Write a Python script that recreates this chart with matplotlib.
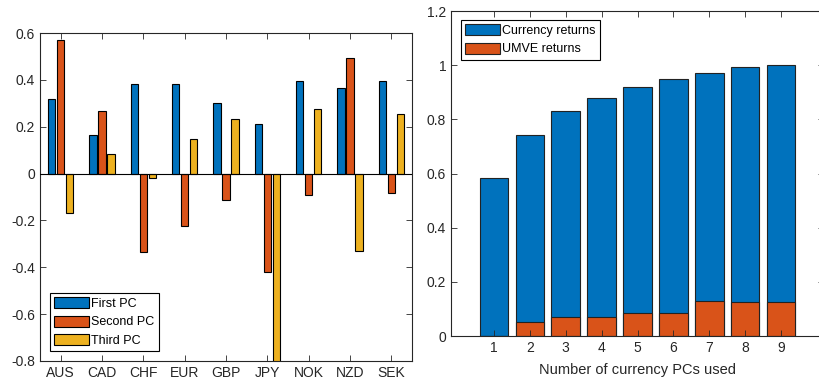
import numpy as np
import matplotlib
matplotlib.use("Agg")
import matplotlib.pyplot as plt

plt.rcParams["font.family"] = ["Liberation Sans", "DejaVu Sans"]
plt.rcParams["font.size"] = 10

# left panel: loadings of the first three currency PCs
currencies = ["AUS", "CAD", "CHF", "EUR", "GBP", "JPY", "NOK", "NZD", "SEK"]
first_pc = [0.319, 0.165, 0.382, 0.384, 0.302, 0.212, 0.396, 0.366, 0.397]
second_pc = [0.570, 0.268, -0.335, -0.224, -0.113, -0.420, -0.090, 0.493, -0.085]
third_pc = [-0.167, 0.083, -0.017, 0.147, 0.235, -0.820, 0.275, -0.332, 0.253]
pc_labels = ["First PC", "Second PC", "Third PC"]

# right panel: share explained vs number of PCs
n_pcs = [1, 2, 3, 4, 5, 6, 7, 8, 9]
currency_returns = [0.582, 0.743, 0.832, 0.877, 0.920, 0.949, 0.972, 0.992, 1.000]
umve_returns = [0.0, 0.052, 0.071, 0.069, 0.085, 0.086, 0.128, 0.127, 0.125]

BLUE = "#0072BD"
RED = "#D95319"
YELLOW = "#EDB120"
TXT = "#262626"


def tick_text(v):
    v = round(float(v), 1)
    return "0" if v == 0 else f"{v:g}"


def style_axes(ax):
    ax.tick_params(direction="in", length=4, width=0.6, colors=TXT,
                   top=True, right=True, labelsize=10)
    for sp in ax.spines.values():
        sp.set_linewidth(0.8)
        sp.set_color(TXT)


def matlab_legend(ax, **kw):
    leg = ax.legend(fancybox=False, framealpha=1, edgecolor="black",
                    borderpad=0.35, labelspacing=0.45, handlelength=2.8,
                    handleheight=0.95, handletextpad=0.15, borderaxespad=0,
                    fontsize=9, **kw)
    leg.get_frame().set_linewidth(0.8)
    return leg


fig = plt.figure(figsize=(8.2, 3.85), dpi=100)

# ---- left panel
ax1 = fig.add_axes([40 / 820, 24 / 385, 372 / 820, 328 / 385])
x = np.arange(1, len(currencies) + 1)
w = 0.18
off = 0.22
for vals, dx, col, lab in zip([first_pc, second_pc, third_pc], [-off, 0, off],
                              [BLUE, RED, YELLOW], pc_labels):
    ax1.bar(x + dx, vals, width=w, color=col, edgecolor="black",
            linewidth=0.8, label=lab)
ax1.axhline(0, color="black", linewidth=0.8, zorder=3)
ax1.set_xlim(0.5, 9.5)
ax1.set_ylim(-0.8, 0.6)
ax1.set_xticks(x)
ax1.set_xticklabels(currencies)
yt = np.arange(-0.8, 0.61, 0.2)
ax1.set_yticks(yt)
ax1.set_yticklabels([tick_text(v) for v in yt])
style_axes(ax1)
matlab_legend(ax1, loc="lower left", bbox_to_anchor=(0.027, 0.03))

# ---- right panel
ax2 = fig.add_axes([451 / 820, 49 / 385, 373 / 820, 325 / 385])
ax2.bar(n_pcs, currency_returns, width=0.8, color=BLUE, edgecolor="#222222",
        linewidth=0.8, label="Currency returns")
ax2.bar(n_pcs, umve_returns, width=0.8, color=RED, edgecolor="#222222",
        linewidth=0.8, label="UMVE returns")
ax2.set_xlim(-0.2, 10.2)
ax2.set_ylim(0, 1.2)
ax2.set_xticks(n_pcs)
yt2 = np.arange(0, 1.21, 0.2)
ax2.set_yticks(yt2)
ax2.set_yticklabels([tick_text(v) for v in yt2])
ax2.set_xlabel("Number of currency PCs used", color=TXT, fontsize=10.5,
               labelpad=6)
style_axes(ax2)
matlab_legend(ax2, loc="upper left", bbox_to_anchor=(0.026, 0.972))

fig.savefig("out.png", dpi=100)
